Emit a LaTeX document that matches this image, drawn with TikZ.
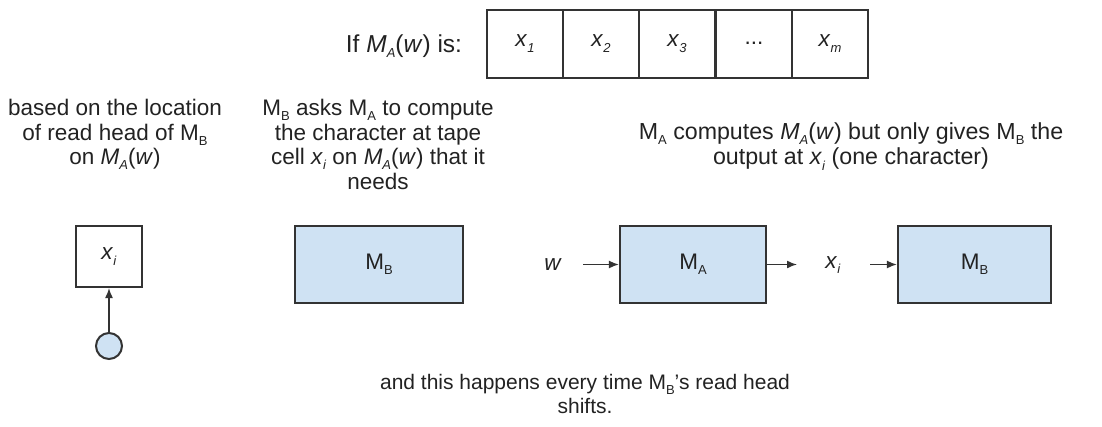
\documentclass[tikz,border=0pt]{standalone}
\usepackage{fontspec}
\setmainfont{Liberation Sans}
\usepackage{graphicx}
\usetikzlibrary{arrows.meta}
\definecolor{boxfill}{HTML}{CFE2F3}
\definecolor{edge}{HTML}{333333}
\definecolor{ink}{HTML}{222222}
\newcommand{\lowsub}[1]{\raisebox{-0.45ex}{\fontsize{13}{13}\selectfont #1}}
\newcommand{\Mup}[1]{M\lowsub{#1}}
\newcommand{\Mit}[1]{\textit{M}\lowsub{\textit{#1}}}
\newcommand{\xit}[1]{\textit{x}\lowsub{\textit{#1}}}
\begin{document}
\begin{tikzpicture}[x=1pt,y=-1pt,
  every node/.style={font=\fontsize{22.5}{24.5}\selectfont, text=ink, inner sep=0pt},
  txt/.style={align=center, anchor=north},
  cell/.style={draw=edge, line width=2pt, minimum width=76pt, minimum height=68pt},
  machine/.style={draw=edge, line width=2.2pt, fill=boxfill},
  arr/.style={draw=edge, line width=1.5pt, -{Latex[length=10pt,width=8pt]}}]
\useasboundingbox (0,0) rectangle (1102,426);

% top tape
\node[anchor=base, font=\fontsize{24.5}{26}\selectfont] (iflabel) at (404,52) {If \Mit{A}(\textit{w}) is:};
\node[cell] (c1) at (525,43.5) {\xit{1}};
\node[cell] (c2) at (601,43.5) {\xit{2}};
\node[cell] (c3) at (677,43.5) {\xit{3}};
\node[cell] (c4) at (754,43.5) {...};
\node[cell] (c5) at (830,43.5) {\xit{m}};

% annotations
\node[txt] (t1) at (115,99) {based on the location\\of read head of \Mup{B}\\on \Mit{A}(\textit{w})};
\node[txt] (t2) at (378,99) {\Mup{B} asks \Mup{A} to compute\\the character at tape\\cell \xit{i} on \Mit{A}(\textit{w}) that it\\needs};
\node[txt, font=\fontsize{23.2}{25.5}\selectfont] (t3) at (851,122) {\Mup{A} computes \Mit{A}(\textit{w}) but only gives \Mup{B} the\\output at \xit{i} (one character)};

% left: head
\node[draw=edge, line width=2pt, minimum width=66pt, minimum height=61pt] (xi) at (109,256.5) {\xit{i}};
\node[circle, draw=edge, line width=2pt, fill=boxfill, minimum size=26pt] (head) at (109,346) {};
\draw[arr] (head) -- (xi);

% middle MB
\node[machine, minimum width=168pt, minimum height=77pt] (mb1) at (379,264.5) {\Mup{B}};

% pipeline
\node (w) at (553,265) {\textit{w}};
\node[machine, minimum width=146pt, minimum height=77pt] (ma) at (693,264.5) {\Mup{A}};
\node (xo) at (833,265) {\xit{i}};
\coordinate (maout) at (797,264.5);
\coordinate (win) at (583,264.5);
\coordinate (xin) at (870,264.5);
\node[machine, minimum width=153pt, minimum height=77pt] (mb2) at (974.5,264.5) {\Mup{B}};
\draw[arr] (win) -- (ma.west);
\draw[arr] (ma.east) -- (maout);
\draw[arr] (xin) -- (mb2.west);

% bottom
\node[txt, font=\fontsize{21}{24.5}\selectfont] (t4) at (585,374) {and this happens every time \Mup{B}'s read head\\shifts.};
\end{tikzpicture}
\end{document}
